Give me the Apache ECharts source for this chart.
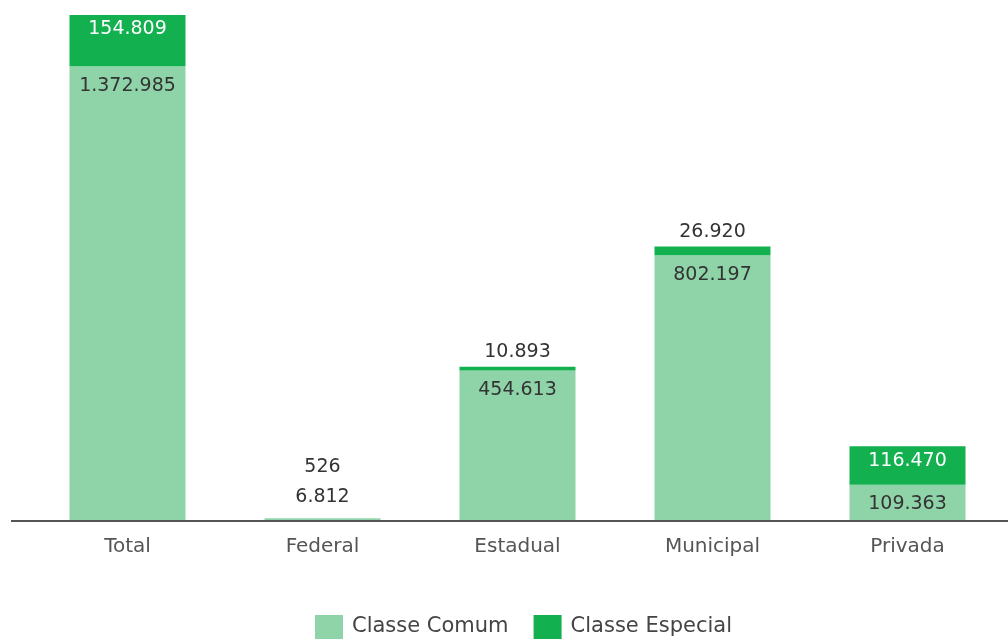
<!DOCTYPE html>
<html>
<head>
<meta charset="utf-8">
<script src="https://cdn.jsdelivr.net/npm/echarts@6/dist/echarts.min.js"></script>
<style>
  html, body { margin: 0; padding: 0; background: #ffffff; }
  #chart { width: 1008px; height: 640px; }
</style>
</head>
<body>
<div id="chart"></div>
<script>
// Matrículas por dependência administrativa
const categories = ['Total', 'Federal', 'Estadual', 'Municipal', 'Privada'];
const classeComum = [1372985, 6812, 454613, 802197, 109363];
const classeEspecial = [154809, 526, 10893, 26920, 116470];

const FONT = 'DejaVu Sans';
const LIGHT = '#8ED4A8';
const DARK = '#12B04F';

const fmt = v => v.toLocaleString('de-DE');

// Largest stack sets the top of the value axis
const stackMax = Math.max(...classeComum.map((v, i) => v + classeEspecial[i]));

// Label placement for the bottom segment
const comumData = classeComum.map((v, i) => {
  const item = { value: v };
  if (categories[i] === 'Federal') {
    item.label = { position: 'top', distance: 12 };
  }
  return item;
});

// Label placement for the top segment: inside when thick, above otherwise
const especialData = classeEspecial.map((v, i) => {
  const share = v / stackMax;
  const item = { value: v };
  if (share > 0.05) {
    item.label = { position: 'insideTop', distance: 5, color: '#ffffff' };
  } else if (categories[i] === 'Federal') {
    item.label = { position: 'top', distance: 5, offset: [0, -37], color: '#333333' };
  } else {
    item.label = { position: 'top', distance: 5, color: '#333333' };
  }
  return item;
});

const chart = echarts.init(document.getElementById('chart'));
chart.setOption({
  animation: false,
  textStyle: { fontFamily: FONT },
  grid: { left: 30, right: 3, top: 15, bottom: 119 },
  legend: {
    left: 315,
    top: 615,
    padding: 0,
    itemWidth: 28,
    itemHeight: 24,
    itemGap: 25,
    icon: 'rect',
    textStyle: { fontFamily: FONT, fontSize: 21, color: '#444444', padding: [0, 0, 0, 4] },
    data: ['Classe Comum', 'Classe Especial']
  },
  xAxis: {
    type: 'category',
    data: categories,
    axisLine: { lineStyle: { color: '#555555', width: 2 } },
    axisTick: { show: false },
    axisLabel: { fontFamily: FONT, fontSize: 20, color: '#555555', margin: 16 }
  },
  yAxis: {
    type: 'value',
    min: 0,
    max: stackMax,
    show: false,
    splitLine: { show: false }
  },
  series: [
    {
      name: 'Classe Comum',
      type: 'bar',
      stack: 'total',
      barWidth: 116,
      itemStyle: { color: LIGHT },
      label: {
        show: true,
        position: 'insideTop',
        distance: 10,
        fontFamily: FONT,
        fontSize: 19,
        color: '#333333',
        formatter: p => fmt(p.value)
      },
      data: comumData
    },
    {
      name: 'Classe Especial',
      type: 'bar',
      stack: 'total',
      barWidth: 116,
      itemStyle: { color: DARK },
      label: {
        show: true,
        fontFamily: FONT,
        fontSize: 19,
        color: '#333333',
        formatter: p => fmt(p.value)
      },
      data: especialData
    }
  ]
});

// Baseline runs past the plot area to the left edge
const baseY = chart.convertToPixel({ yAxisIndex: 0 }, 0);
chart.setOption({
  graphic: [{
    type: 'line',
    shape: { x1: 11, y1: baseY, x2: 1008, y2: baseY },
    style: { stroke: '#555555', lineWidth: 2 },
    z: 10
  }]
});
</script>
</body>
</html>
